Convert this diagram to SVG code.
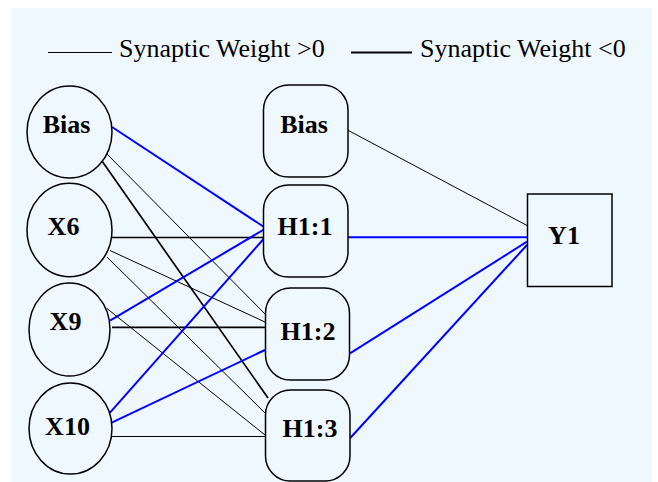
<svg xmlns="http://www.w3.org/2000/svg" width="658" height="482" viewBox="0 0 658 482">
<style>
.bg{fill:#F0F8FF;}
.node{fill:#F0F8FF;stroke:#000;stroke-width:1.5;}
.lbl{font-size:26px;font-weight:bold;fill:#000;text-anchor:middle;}
.leg{font-size:26px;fill:#000;}
.pos{stroke:#000;stroke-width:1;fill:none;}
.posb{stroke:#000;stroke-width:1.7;fill:none;}
.neg{stroke:#0000FF;stroke-width:2;fill:none;}
</style>
<rect class="bg" x="11" y="8" width="641" height="474"/>
<g id="legend" font-family="Liberation Serif, serif">
<line x1="48" y1="52.5" x2="112" y2="52.5" stroke="#000" stroke-width="1"/>
<text class="leg" x="119" y="57">Synaptic Weight &gt;0</text>
<line x1="351" y1="52.5" x2="412" y2="52.5" stroke="#000" stroke-width="2"/>
<text class="leg" x="420" y="57">Synaptic Weight &lt;0</text>
</g>
<g id="connectors">
<line class="neg" x1="112" y1="127" x2="264" y2="227"/>
<line class="pos" x1="107" y1="154" x2="265" y2="314"/>
<line class="posb" x1="102" y1="161" x2="268" y2="398"/>
<line class="posb" x1="112" y1="237.5" x2="264" y2="237.5"/>
<line class="pos" x1="110" y1="250.5" x2="265" y2="322"/>
<line class="pos" x1="107" y1="257" x2="265" y2="413"/>
<line class="neg" x1="110" y1="320.7" x2="264" y2="229.5"/>
<line class="posb" x1="112" y1="327.3" x2="265" y2="327.3"/>
<line class="pos" x1="106.7" y1="308.3" x2="265" y2="435"/>
<line class="neg" x1="110" y1="412.7" x2="264" y2="238.5"/>
<line class="neg" x1="111.7" y1="422.7" x2="265" y2="350"/>
<line class="pos" x1="112" y1="436.5" x2="265" y2="436.5" stroke-width="1.2"/>
<line class="pos" x1="347.5" y1="130" x2="528" y2="226"/>
<line class="neg" x1="348" y1="237.3" x2="527" y2="237.3" stroke-width="3.5"/>
<line class="neg" x1="350" y1="353.3" x2="527" y2="241.7" stroke-width="2.2"/>
<line class="neg" x1="350" y1="438.3" x2="527" y2="245" stroke-width="1.4"/>
</g>
<g font-family="Liberation Serif, serif">
<g id="in_bias"><ellipse class="node" cx="69.5" cy="132" rx="42.5" ry="46"/><text class="lbl" x="66.5" y="133">Bias</text></g>
<g id="x6"><ellipse class="node" cx="69.5" cy="230" rx="42.5" ry="46.7"/><text class="lbl" x="63.5" y="235">X6</text></g>
<g id="x9"><ellipse class="node" cx="69.5" cy="329.5" rx="40.5" ry="46.5"/><text class="lbl" x="65.5" y="330">X9</text></g>
<g id="x10"><ellipse class="node" cx="70.5" cy="428.5" rx="41.5" ry="45.5"/><text class="lbl" x="67.5" y="435">X10</text></g>
<g id="h_bias"><rect class="node" x="263.5" y="85" width="84.5" height="92" rx="25" ry="25"/><text class="lbl" x="304" y="133">Bias</text></g>
<g id="h1_1"><rect class="node" x="263.5" y="185" width="84.5" height="92" rx="25" ry="25"/><text class="lbl" x="305" y="235">H1:1</text></g>
<g id="h1_2"><rect class="node" x="265.5" y="288" width="84" height="92" rx="25" ry="25"/><text class="lbl" x="308" y="340">H1:2</text></g>
<g id="h1_3"><rect class="node" x="265.5" y="390" width="84.5" height="91" rx="25" ry="25"/><text class="lbl" x="310" y="437">H1:3</text></g>
<g id="y1"><rect class="node" x="527.5" y="194" width="84.5" height="92.5"/><text class="lbl" x="564" y="244">Y1</text></g>
</g>
</svg>
